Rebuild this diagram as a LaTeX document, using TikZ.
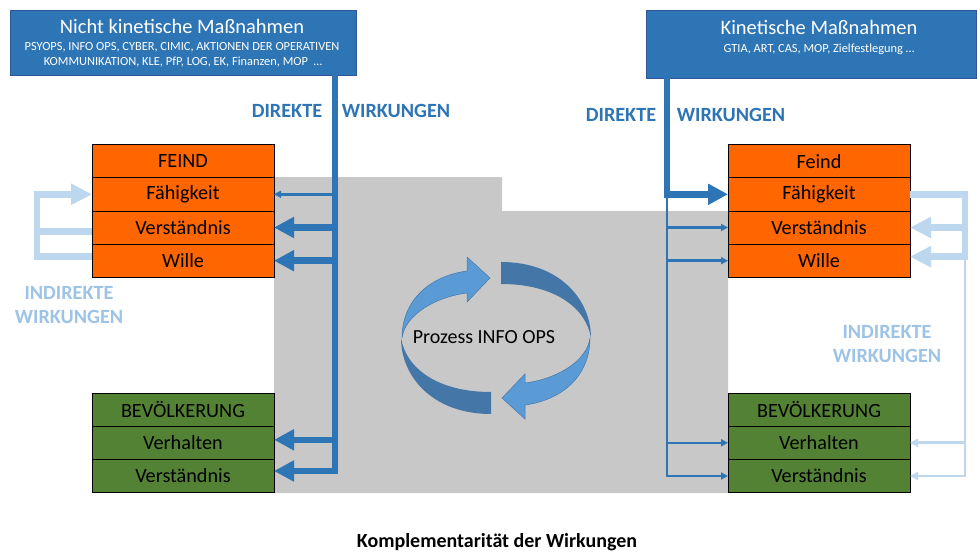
\documentclass[tikz,border=0pt]{standalone}
\usepackage{fontspec}
\setmainfont{Carlito}
\usetikzlibrary{positioning,arrows.meta}
\definecolor{opblue}{RGB}{46,117,182}
\definecolor{opblueedge}{RGB}{47,85,151}
\definecolor{feindorange}{RGB}{255,102,0}
\definecolor{bevgreen}{RGB}{84,130,53}
\definecolor{indirekt}{RGB}{189,215,238}
\definecolor{indirekttext}{RGB}{157,195,230}
\definecolor{prozessgray}{RGB}{200,200,200}
\definecolor{cyclelight}{RGB}{91,155,213}
\definecolor{cycledark}{RGB}{68,119,168}
\tikzset{
  rowbox/.style      = {draw, line width=0.8pt, minimum width=182pt, minimum height=33.2pt,
                        inner sep=0pt, outer sep=0pt, font=\fontsize{20.2}{23}\selectfont},
  feindrow/.style    = {rowbox, fill=feindorange},
  bevrow/.style      = {rowbox, fill=bevgreen},
  topbox/.style      = {draw=opblueedge, line width=0.8pt, fill=opblue, anchor=north west,
                        inner sep=0pt},
  toptitle/.style    = {text=white, anchor=base, inner sep=0pt, font=\fontsize{20.5}{24}\selectfont},
  topsub/.style      = {text=white, anchor=base, inner sep=0pt, font=\fontsize{12.4}{14}\selectfont},
  direktlbl/.style   = {text=opblue, anchor=base, inner sep=0pt, font=\bfseries\fontsize{20.2}{24}\selectfont},
  indirektlbl/.style = {text=indirekttext, anchor=base, inner sep=0pt, align=center,
                        font=\bfseries\fontsize{20.2}{23.5}\selectfont},
  thickarrow/.style  = {opblue, line width=6.5pt, -{Triangle[length=20pt,width=20pt]}},
  thinarrow/.style   = {opblue, line width=2.5pt, -{Triangle[length=7pt,width=7pt]}},
  lightarrow/.style  = {indirekt, line width=6.5pt, -{Triangle[length=21pt,width=20pt]}},
  lightthin/.style   = {indirekt, line width=2.7pt, -{Triangle[length=8pt,width=8pt]}},
}

\begin{document}
\begin{tikzpicture}[x=1pt, y=-1pt, node distance=0pt]
  \fill[white] (0,0) rectangle (980,559);
  \fill[prozessgray] (274,177) -- (502,177) -- (502,211) -- (728,211) -- (728,493) -- (274,493) -- cycle;

  % massnahmen
  \node[topbox, minimum width=346pt, minimum height=65pt] (ltop) at (10,10) {};
  \node[toptitle] (ltitle) at (182,34) {Nicht kinetische Maßnahmen};
  \node[topsub] (lsub1) at (182,51) {PSYOPS, INFO OPS, CYBER, CIMIC, AKTIONEN DER OPERATIVEN};
  \node[topsub] (lsub2) at (183,65.7) {KOMMUNIKATION, KLE, PfP, LOG, EK, Finanzen, MOP\ \ \ldots};
  \node[topbox, minimum width=330pt, minimum height=68pt] (rtop) at (646,10) {};
  \node[toptitle] (rtitle) at (819,35) {Kinetische Maßnahmen};
  \node[topsub] (rsub) at (819,53) {GTIA, ART, CAS, MOP, Zielfestlegung \ldots};

  % zielgruppen links
  \node[feindrow, anchor=north west] (lfeind) at (92,144.5) {FEIND};
  \node[feindrow, below=of lfeind] (lfaeh) {Fähigkeit};
  \node[feindrow, below=of lfaeh] (lverst) {Verständnis};
  \node[feindrow, below=of lverst] (lwille) {Wille};
  \node[bevrow, anchor=north west] (lbev) at (92,393) {BEVÖLKERUNG};
  \node[bevrow, below=of lbev] (lverh) {Verhalten};
  \node[bevrow, below=of lverh] (lbverst) {Verständnis};

  % zielgruppen rechts
  \node[feindrow, anchor=north west] (rfeind) at (728,144.5) {Feind};
  \node[feindrow, below=of rfeind] (rfaeh) {Fähigkeit};
  \node[feindrow, below=of rfaeh] (rverst) {Verständnis};
  \node[feindrow, below=of rverst] (rwille) {Wille};
  \node[bevrow, anchor=north west] (rbev) at (728,393) {BEVÖLKERUNG};
  \node[bevrow, below=of rbev] (rverh) {Verhalten};
  \node[bevrow, below=of rverh] (rbverst) {Verständnis};

  % direkte wirkungen
  \coordinate (lbus) at (335,75);
  \draw[thickarrow] (lbus) |- ([yshift=5pt]lbverst.east);
  \draw[thickarrow] (lbus) |- ([yshift=3pt]lverh.east);
  \draw[thickarrow] (lbus) |- (lwille.east);
  \draw[thickarrow] (lbus) |- (lverst.east);
  \draw[thinarrow]  (lbus) |- (lfaeh.east);
  \coordinate (rbus) at (667,78);
  \draw[thinarrow]  (rbus) |- (rbverst.west);
  \draw[thinarrow]  (rbus) |- (rverh.west);
  \draw[thinarrow]  (rbus) |- (rwille.west);
  \draw[thinarrow]  (rbus) |- (rverst.west);
  \draw[thickarrow] (rbus) |- (rfaeh.west);
  \node[direktlbl] (ldir) at (287,117.3) {DIREKTE};
  \node[direktlbl] (lwirk) at (396,117.3) {WIRKUNGEN};
  \node[direktlbl] (rdir) at (621,121.7) {DIREKTE};
  \node[direktlbl] (rwirk) at (731,121.7) {WIRKUNGEN};

  % indirekte wirkungen
  \coordinate[left=55pt of lfaeh.west] (lind);
  \draw[lightarrow] ([yshift=4pt]lwille.west) -| (lind) -- (lfaeh.west);
  \draw[indirekt, line width=6.5pt] ([yshift=-4pt]lverst.west) -| (lind);
  \coordinate[right=55pt of rfaeh.east] (rind);
  \draw[lightthin] (rind) |- (rbverst.east);
  \draw[lightthin] (rind) |- (rverh.east);
  \draw[lightarrow] (rfaeh.east) -- (rind) |- ([yshift=4pt]rwille.east);
  \draw[lightarrow] (rind) |- (rverst.east);
  \node[indirektlbl] (lindlbl) at (69,323.3) {INDIREKTE\\WIRKUNGEN};
  \node[indirektlbl] (rindlbl) at (887,362.3) {INDIREKTE\\WIRKUNGEN};

  % prozess
  \foreach \rot in {0,180}{
    \begin{scope}[rotate around={\rot:(496,338)}]
      \fill[cycledark] (501,262) .. controls (560,262) and (591,300) .. (591,338)
        .. controls (586,308) and (555,284) .. (501,284) -- cycle;
      \filldraw[fill=cyclelight, draw=cycledark, line width=0.5pt] (402,338)
        .. controls (402,300) and (430,276) .. (467,271) -- (467,257) -- (490,278)
        -- (467,302) -- (467,293) .. controls (435,297) and (405,315) .. (402,338) -- cycle;
    \end{scope}
  }
  \node[anchor=base, font=\fontsize{20}{24}\selectfont] (prozess) at (484,343.3) {Prozess INFO OPS};

  \node[anchor=base, font=\bfseries\fontsize{20}{24}\selectfont] (caption) at (497,547) {Komplementarität der Wirkungen};
\end{tikzpicture}
\end{document}
